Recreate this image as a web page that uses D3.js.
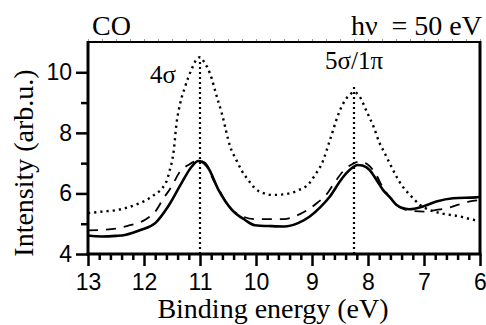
<!DOCTYPE html>
<html>
<head>
<meta charset="utf-8">
<script src="https://cdn.jsdelivr.net/npm/d3@7"></script>
<style>
  body { margin: 0; background: #fff; }
  svg { display: block; }
  .tick text { font-family: "Liberation Sans", Arimo, Arial, Helvetica, sans-serif; font-size: 23px; fill: #000; }
  .serif { font-family: "Liberation Serif", Tinos, "Times New Roman", Times, "Nimbus Roman", "Nimbus Roman No9 L", FreeSerif, "Noto Serif", "DejaVu Serif", serif; }
</style>
</head>
<body>
<svg id="chart" width="486" height="325"></svg>
<script>
// binding energies (eV) and intensities
const dottedE = [13, 12.75, 12.46, 12.16, 11.86, 11.6, 11.55, 11.47, 11.42, 11.35, 11.27, 11.15, 11.05, 11.0, 10.93, 10.82, 10.7, 10.61, 10.46, 10.35, 10.26, 10.1, 10.02, 9.85, 9.7, 9.5, 9.25, 9.04, 8.95, 8.82, 8.68, 8.5, 8.4, 8.3, 8.25, 8.15, 8.02, 7.9, 7.79, 7.73, 7.6, 7.49, 7.37, 7.25, 7.07, 6.9, 6.71, 6.36, 6.12, 6.0];
const dottedI = [5.35, 5.4, 5.46, 5.62, 5.9, 6.39, 6.7, 7.4, 8.3, 9.0, 9.5, 10.1, 10.45, 10.5, 10.35, 9.95, 9.2, 8.64, 7.54, 7.1, 6.77, 6.35, 6.17, 6.0, 5.95, 5.97, 6.1, 6.35, 6.6, 7.0, 7.76, 8.75, 9.1, 9.3, 9.35, 9.2, 8.69, 8.2, 7.65, 7.43, 6.95, 6.55, 6.2, 5.95, 5.62, 5.45, 5.35, 5.24, 5.13, 5.1];

const solidE = [13, 12.76, 12.5, 12.34, 12.05, 11.8, 11.57, 11.33, 11.15, 11.03, 10.95, 10.85, 10.67, 10.43, 10.2, 10.02, 9.72, 9.5, 9.25, 9.04, 8.85, 8.68, 8.5, 8.39, 8.18, 8.1, 7.97, 7.85, 7.73, 7.6, 7.49, 7.35, 7.26, 7.02, 6.78, 6.48, 6.07, 6.0];
const solidI = [4.61, 4.58, 4.6, 4.63, 4.8, 5.02, 5.57, 6.34, 6.88, 7.07, 7.03, 6.83, 6.12, 5.46, 5.13, 4.95, 4.92, 4.91, 5.02, 5.24, 5.55, 5.9, 6.4, 6.66, 6.94, 6.92, 6.77, 6.45, 6.11, 5.85, 5.62, 5.5, 5.48, 5.57, 5.73, 5.84, 5.87, 5.88];

const dashedE = [13, 12.7, 12.5, 12.25, 11.98, 11.8, 11.65, 11.5, 11.38, 11.2, 11.05, 10.95, 10.85, 10.8, 10.67, 10.45, 10.25, 10.0, 9.65, 9.5, 9.3, 9.1, 8.9, 8.75, 8.6, 8.45, 8.3, 8.15, 8.0, 7.85, 7.75, 7.6, 7.4, 7.2, 7.0, 6.8, 6.6, 6.4, 6.2, 6.0];
const dashedI = [4.78, 4.8, 4.84, 4.95, 5.13, 5.4, 5.84, 6.25, 6.66, 6.95, 7.07, 7.05, 6.85, 6.6, 6.15, 5.5, 5.25, 5.15, 5.15, 5.15, 5.25, 5.43, 5.7, 5.95, 6.35, 6.72, 6.95, 7.05, 6.95, 6.6, 6.25, 5.85, 5.51, 5.42, 5.4, 5.45, 5.51, 5.62, 5.73, 5.78];

// peak markers: position and top of the vertical dotted line
const peakE = [11.0, 8.25];
const peakTop = [10.45, 9.55];
const peakLabels = ["4σ", "5σ/1π"];

const xTicks = [13, 12, 11, 10, 9, 8, 7, 6];
const yTicks = [4, 6, 8, 10];

const svg = d3.select("#chart");
const margin = { top: 42, left: 88, bottom: 71, right: 6 };
const W = 486, H = 325;

const x = d3.scaleLinear().domain([13, 6]).range([margin.left, W - margin.right]);
const y = d3.scaleLinear().domain([4, 11]).range([H - margin.bottom, margin.top]);

const line = d3.line()
    .x(d => x(d[0]))
    .y(d => y(d[1]))
    .curve(d3.curveMonotoneX);

// vertical dotted markers
svg.selectAll("line.peak")
    .data(peakE)
    .join("line")
    .attr("class", "peak")
    .attr("x1", d => x(d)).attr("x2", d => x(d))
    .attr("y1", y(4)).attr("y2", (d, i) => y(peakTop[i]))
    .attr("stroke", "#000")
    .attr("stroke-width", 2.2)
    .attr("stroke-dasharray", "2,3");

svg.append("path")
    .datum(d3.zip(dottedE, dottedI))
    .attr("d", line)
    .attr("fill", "none")
    .attr("stroke", "#000")
    .attr("stroke-width", 2.4)
    .attr("stroke-dasharray", "2.2,4");

svg.append("path")
    .datum(d3.zip(dashedE, dashedI))
    .attr("d", line)
    .attr("fill", "none")
    .attr("stroke", "#000")
    .attr("stroke-width", 1.8)
    .attr("stroke-dasharray", "10,8");

svg.append("path")
    .datum(d3.zip(solidE, solidI))
    .attr("d", line)
    .attr("fill", "none")
    .attr("stroke", "#000")
    .attr("stroke-width", 2.6);

// minor ticks
const xMinor = d3.range(0, 36).map(i => 13 - i * 0.2).filter(v => Math.abs(v - Math.round(v)) > 0.01);
const yMinor = [5, 7, 9];

svg.append("g")
    .attr("transform", `translate(0,${y(4)})`)
    .call(d3.axisBottom(x).tickValues(xMinor).tickSize(6).tickFormat(""))
    .call(g => g.select(".domain").remove())
    .call(g => g.selectAll("line").attr("stroke-width", 2.5));

svg.append("g")
    .attr("transform", `translate(0,${y(4)})`)
    .call(d3.axisBottom(x).tickValues(xTicks).tickSize(12).tickPadding(8).tickFormat(d3.format("d")))
    .call(g => g.select(".domain").remove())
    .call(g => g.selectAll("line").attr("stroke-width", 2.5));

svg.append("g")
    .attr("transform", `translate(${x(13)},0)`)
    .call(d3.axisLeft(y).tickValues(yMinor).tickSize(7).tickFormat(""))
    .call(g => g.select(".domain").remove())
    .call(g => g.selectAll("line").attr("stroke-width", 2.5));

svg.append("g")
    .attr("transform", `translate(${x(13)},0)`)
    .call(d3.axisLeft(y).tickValues(yTicks).tickSize(12).tickPadding(4).tickFormat(d3.format("d")))
    .call(g => g.select(".domain").remove())
    .call(g => g.selectAll("line").attr("stroke-width", 2.5));

// faint ticks on the top edge
svg.append("g")
    .attr("transform", `translate(0,${y(11)})`)
    .call(d3.axisTop(x).tickValues(d3.range(0, 29).map(i => 13 - i * 0.25)).tickSize(3).tickFormat(""))
    .call(g => g.select(".domain").remove())
    .call(g => g.selectAll("line").attr("stroke", "#999").attr("stroke-width", 1));

// frame
const x0 = x(13), x1 = x(6), y0 = y(4), y1 = y(11);
svg.append("line").attr("x1", x0).attr("x2", x1).attr("y1", y1).attr("y2", y1)
    .attr("stroke", "#000").attr("stroke-width", 2);
svg.append("line").attr("x1", x1).attr("x2", x1).attr("y1", y1 - 1).attr("y2", y0)
    .attr("stroke", "#000").attr("stroke-width", 3);
svg.append("line").attr("x1", x0).attr("x2", x0).attr("y1", y1 - 1).attr("y2", y0 + 1.5)
    .attr("stroke", "#000").attr("stroke-width", 3);
svg.append("line").attr("x1", x0 - 1.5).attr("x2", x1 + 1.5).attr("y1", y0).attr("y2", y0)
    .attr("stroke", "#000").attr("stroke-width", 3);

// peak labels
svg.selectAll("text.plabel")
    .data(peakLabels)
    .join("text")
    .attr("class", "plabel serif")
    .attr("x", (d, i) => i === 0 ? 150 : 354)
    .attr("y", (d, i) => i === 0 ? 83 : 69)
    .attr("text-anchor", (d, i) => i === 0 ? "start" : "middle")
    .style("font-size", "25px")
    .text(d => d);

svg.append("text").attr("class", "serif")
    .attr("x", 92).attr("y", 35)
    .style("font-size", "28px")
    .text("CO");

svg.append("text").attr("class", "serif")
    .attr("x", 482).attr("y", 35)
    .attr("text-anchor", "end")
    .style("font-size", "28px")
    .style("white-space", "pre")
    .text("hν  = 50 eV");

svg.append("text").attr("class", "serif")
    .attr("x", 273).attr("y", 318)
    .attr("text-anchor", "middle")
    .style("font-size", "28px")
    .text("Binding energy (eV)");

svg.append("text").attr("class", "serif")
    .attr("transform", "translate(33,163) rotate(-90)")
    .attr("text-anchor", "middle")
    .style("font-size", "28px")
    .text("Intensity (arb.u.)");
</script>
</body>
</html>
